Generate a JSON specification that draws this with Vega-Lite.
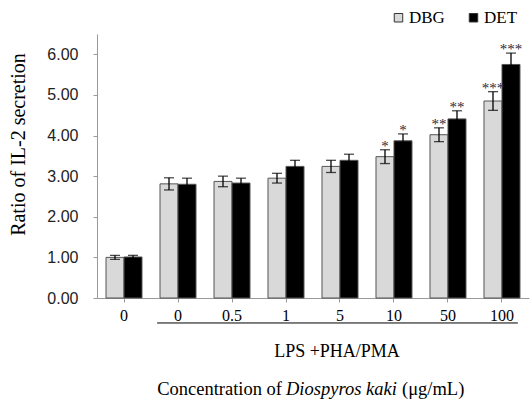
{
  "$schema": "https://vega.github.io/schema/vega-lite/v6.json",
  "width": 432,
  "height": 264,
  "autosize": "none",
  "padding": {"left": 97, "top": 34, "right": 2, "bottom": 106},
  "background": "white",
  "config": {"view": {"stroke": null}, "font": "Liberation Serif"},
  "datasets": {
    "bars": [
      {"grp": "ctrl", "series": "DBG", "value": 1.0, "lo": 0.95, "hi": 1.05, "sig": ""},
      {"grp": "ctrl", "series": "DET", "value": 1.01, "lo": 0.97, "hi": 1.05, "sig": ""},
      {"grp": "0", "series": "DBG", "value": 2.81, "lo": 2.66, "hi": 2.96, "sig": ""},
      {"grp": "0", "series": "DET", "value": 2.8, "lo": 2.65, "hi": 2.95, "sig": ""},
      {"grp": "0.5", "series": "DBG", "value": 2.87, "lo": 2.74, "hi": 3.0, "sig": ""},
      {"grp": "0.5", "series": "DET", "value": 2.83, "lo": 2.71, "hi": 2.95, "sig": ""},
      {"grp": "1", "series": "DBG", "value": 2.95, "lo": 2.83, "hi": 3.07, "sig": ""},
      {"grp": "1", "series": "DET", "value": 3.24, "lo": 3.09, "hi": 3.39, "sig": ""},
      {"grp": "5", "series": "DBG", "value": 3.24, "lo": 3.09, "hi": 3.39, "sig": ""},
      {"grp": "5", "series": "DET", "value": 3.39, "lo": 3.24, "hi": 3.54, "sig": ""},
      {"grp": "10", "series": "DBG", "value": 3.48, "lo": 3.31, "hi": 3.65, "sig": "*"},
      {"grp": "10", "series": "DET", "value": 3.87, "lo": 3.7, "hi": 4.04, "sig": "*"},
      {"grp": "50", "series": "DBG", "value": 4.02, "lo": 3.85, "hi": 4.19, "sig": "**"},
      {"grp": "50", "series": "DET", "value": 4.41, "lo": 4.21, "hi": 4.61, "sig": "**"},
      {"grp": "100", "series": "DBG", "value": 4.85, "lo": 4.62, "hi": 5.08, "sig": "***"},
      {"grp": "100", "series": "DET", "value": 5.75, "lo": 5.47, "hi": 6.03, "sig": "***"}
    ]
  },
  "encoding": {
    "x": {
      "field": "grp",
      "type": "nominal",
      "sort": ["ctrl", "0", "0.5", "1", "5", "10", "50", "100"],
      "scale": {"domain": ["ctrl", "0", "0.5", "1", "5", "10", "50", "100"], "paddingInner": 0.3333, "paddingOuter": 0.1667},
      "axis": {
        "title": null,
        "labelAngle": 0,
        "labelFont": "Liberation Serif",
        "labelFontSize": 16,
        "labelColor": "#000",
        "labelPadding": 5,
        "domainColor": "#999",
        "tickColor": "#999",
        "tickSize": 4,
        "labelExpr": "datum.value == 'ctrl' ? '0' : datum.value"
      }
    }
  },
  "layer": [
    {
      "data": {"name": "bars"},
      "mark": {"type": "bar", "stroke": "#555", "strokeWidth": 1},
      "encoding": {
        "xOffset": {"field": "series", "type": "nominal", "sort": ["DBG", "DET"], "scale": {"paddingInner": 0, "paddingOuter": 0}},
        "y": {
          "field": "value",
          "type": "quantitative",
          "scale": {"domain": [0, 6.5], "nice": false},
          "axis": {
            "title": "Ratio of IL-2 secretion",
            "titleFont": "Liberation Serif",
            "titleFontSize": 20,
            "titleFontWeight": "normal",
            "titleColor": "#000",
            "titleX": -69,
            "titleY": 110,
            "values": [0, 1, 2, 3, 4, 5, 6],
            "format": ".2f",
            "grid": false,
            "labelFont": "Liberation Sans",
            "labelFontSize": 16,
            "labelColor": "#222",
            "labelPadding": 15,
            "tickSize": 4,
            "tickColor": "#999",
            "domainColor": "#999"
          }
        },
        "color": {
          "field": "series",
          "type": "nominal",
          "scale": {"domain": ["DBG", "DET"], "range": ["#d9d9d9", "#000000"]},
          "legend": {
            "orient": "none",
            "legendX": 293,
            "legendY": -25,
            "direction": "horizontal",
            "title": null,
            "symbolType": "square",
            "symbolSize": 72,
            "symbolStrokeColor": "#333",
            "symbolStrokeWidth": 1,
            "symbolOpacity": 1,
            "labelFont": "Liberation Serif",
            "labelFontSize": 17,
            "labelColor": "#000",
            "labelOffset": 2,
            "columnPadding": 20
          }
        }
      }
    },
    {
      "data": {"name": "bars"},
      "mark": {"type": "rule", "color": "#000", "strokeWidth": 1.3},
      "encoding": {
        "xOffset": {"field": "series", "type": "nominal", "sort": ["DBG", "DET"]},
        "y": {"field": "lo", "type": "quantitative", "title": "Ratio of IL-2 secretion"},
        "y2": {"field": "hi"}
      }
    },
    {
      "data": {"name": "bars"},
      "mark": {"type": "tick", "color": "#000", "thickness": 1.3, "size": 10},
      "encoding": {
        "xOffset": {"field": "series", "type": "nominal", "sort": ["DBG", "DET"]},
        "y": {"field": "hi", "type": "quantitative", "title": "Ratio of IL-2 secretion"}
      }
    },
    {
      "data": {"name": "bars"},
      "mark": {"type": "tick", "color": "#000", "thickness": 1.3, "size": 10},
      "encoding": {
        "xOffset": {"field": "series", "type": "nominal", "sort": ["DBG", "DET"]},
        "y": {"field": "lo", "type": "quantitative", "title": "Ratio of IL-2 secretion"}
      }
    },
    {
      "data": {"name": "bars"},
      "mark": {"type": "text", "font": "Liberation Serif", "fontSize": 15, "baseline": "alphabetic", "dy": 1, "fill": "#2a2a3a", "color": "#2a2a3a"},
      "encoding": {
        "xOffset": {"field": "series", "type": "nominal", "sort": ["DBG", "DET"]},
        "y": {"field": "hi", "type": "quantitative", "title": "Ratio of IL-2 secretion"},
        "text": {"field": "sig"}
      }
    },
    {
      "data": {"values": [{"grp": "0", "grpEnd": "100"}]},
      "mark": {"type": "rule", "color": "#000", "strokeWidth": 1},
      "encoding": {
        "x": {"field": "grp", "type": "nominal", "bandPosition": -0.08},
        "x2": {"field": "grpEnd", "bandPosition": 0.94},
        "y": {"datum": -0.615, "type": "quantitative", "title": "Ratio of IL-2 secretion"}
      }
    },
    {
      "data": {"values": [{"grp": "5", "t": "LPS +PHA/PMA"}]},
      "mark": {"type": "text", "font": "Liberation Serif", "fontSize": 18, "baseline": "middle", "align": "center", "dx": -3, "color": "#000"},
      "encoding": {
        "y": {"datum": -1.33, "type": "quantitative", "title": "Ratio of IL-2 secretion"},
        "text": {"field": "t"}
      }
    },
    {
      "data": {"values": [{"grp": "1", "t": "Concentration of"}]},
      "mark": {"type": "text", "font": "Liberation Serif", "fontSize": 18.5, "baseline": "middle", "align": "right", "dx": -4, "color": "#000"},
      "encoding": {
        "y": {"datum": -2.25, "type": "quantitative", "title": "Ratio of IL-2 secretion"},
        "text": {"field": "t"}
      }
    },
    {
      "data": {"values": [{"grp": "1", "t": "Diospyros kaki"}]},
      "mark": {"type": "text", "font": "Liberation Serif", "fontSize": 18.5, "fontStyle": "italic", "baseline": "middle", "align": "left", "dx": 0, "color": "#000"},
      "encoding": {
        "y": {"datum": -2.25, "type": "quantitative", "title": "Ratio of IL-2 secretion"},
        "text": {"field": "t"}
      }
    },
    {
      "data": {"values": [{"grp": "1", "t": "(μg/mL)"}]},
      "mark": {"type": "text", "font": "Liberation Serif", "fontSize": 18.5, "baseline": "middle", "align": "left", "dx": 116, "color": "#000"},
      "encoding": {
        "y": {"datum": -2.25, "type": "quantitative", "title": "Ratio of IL-2 secretion"},
        "text": {"field": "t"}
      }
    }
  ]
}
